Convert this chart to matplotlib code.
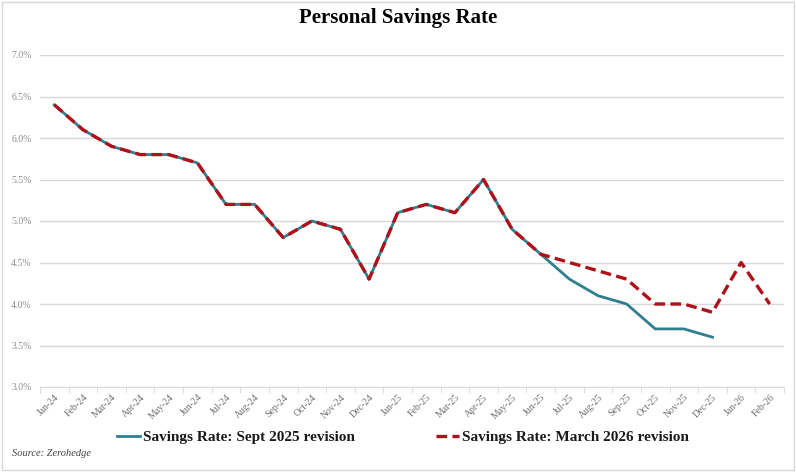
import matplotlib
matplotlib.use("Agg")
import matplotlib.pyplot as plt
from matplotlib.patches import Rectangle
from matplotlib.ticker import FuncFormatter, FixedLocator

months = ["Jan-24", "Feb-24", "Mar-24", "Apr-24", "May-24", "Jun-24", "Jul-24", "Aug-24",
          "Sep-24", "Oct-24", "Nov-24", "Dec-24", "Jan-25", "Feb-25", "Mar-25", "Apr-25",
          "May-25", "Jun-25", "Jul-25", "Aug-25", "Sep-25", "Oct-25", "Nov-25", "Dec-25",
          "Jan-26", "Feb-26"]
sept_2025 = [6.4, 6.1, 5.9, 5.8, 5.8, 5.7, 5.2, 5.2, 4.8, 5.0, 4.9, 4.3, 5.1, 5.2, 5.1, 5.5,
             4.9, 4.6, 4.3, 4.1, 4.0, 3.7, 3.7, 3.6]
march_2026 = [6.4, 6.1, 5.9, 5.8, 5.8, 5.7, 5.2, 5.2, 4.8, 5.0, 4.9, 4.3, 5.1, 5.2, 5.1, 5.5,
              4.9, 4.6, 4.5, 4.4, 4.3, 4.0, 4.0, 3.9, 4.5, 4.0]
y_ticks = [3.0, 3.5, 4.0, 4.5, 5.0, 5.5, 6.0, 6.5, 7.0]

plt.rcParams['font.family'] = ['Liberation Serif', 'DejaVu Serif']

W, H = 796, 472
fig = plt.figure(figsize=(W / 100, H / 100), dpi=100)
ax = fig.add_axes([40 / W, 1 - 387 / H, (784 - 40) / W, (387 - 55) / H])

x_sept = list(range(len(sept_2025)))
x_march = list(range(len(march_2026)))

ax.plot(x_sept, sept_2025, color="#2E7F8F", lw=2.0, label="Savings Rate: Sept 2025 revision",
        zorder=3)
ax.plot(x_march, march_2026, color="#B0101A", lw=2.4, ls=(0, (3.2, 1.6)),
        label="Savings Rate: March 2026 revision", zorder=4)

ax.set_xlim(-0.5, len(months) - 0.5)
ax.set_ylim(3.0, 7.0)
ax.set_yticks(y_ticks)
ax.yaxis.set_major_formatter(FuncFormatter(lambda v, p: f"{v:.1f}%"))
ax.grid(axis="y", color="#D9D9D9", lw=1.0)
ax.set_axisbelow(True)

ax.set_xticks(range(len(months)))
ax.set_xticklabels(months, rotation=45, ha="right", rotation_mode="anchor",
                   fontsize=7, color="#6F6F6F")
ax.tick_params(axis="x", which="major", length=0, pad=4)
ax.xaxis.set_minor_locator(FixedLocator([i - 0.5 for i in range(len(months) + 1)]))
ax.tick_params(axis="x", which="minor", length=4, color="#D9D9D9")
ax.tick_params(axis="y", length=0, labelsize=7, labelcolor="#8C8C8C", pad=6)

for s in ["top", "right", "left"]:
    ax.spines[s].set_visible(False)
ax.spines["bottom"].set_color("#D9D9D9")

fig.text(398 / W, 1 - 18 / H, "Personal Savings Rate", ha="center", va="center",
         fontsize=15, fontweight="bold", color="black")

leg = fig.legend(loc="center", bbox_to_anchor=(403 / W, 1 - 437 / H), ncol=2,
                 frameon=False, prop={"size": 11, "weight": "bold"},
                 handlelength=1.5, handletextpad=0.2, columnspacing=5.3)
for t in leg.get_texts():
    t.set_color("#1A1A1A")

fig.text(12 / W, 1 - 453 / H, "Source: Zerohedge", ha="left", va="center",
         fontsize=7.5, style="italic", color="#404040")

fig.patches.append(Rectangle((2 / W, 2 / H), 1 - 4 / W, 1 - 4 / H, transform=fig.transFigure,
                             fill=False, edgecolor="#D9D9D9", lw=1.0))

fig.savefig("out.png", dpi=100, facecolor="white")
